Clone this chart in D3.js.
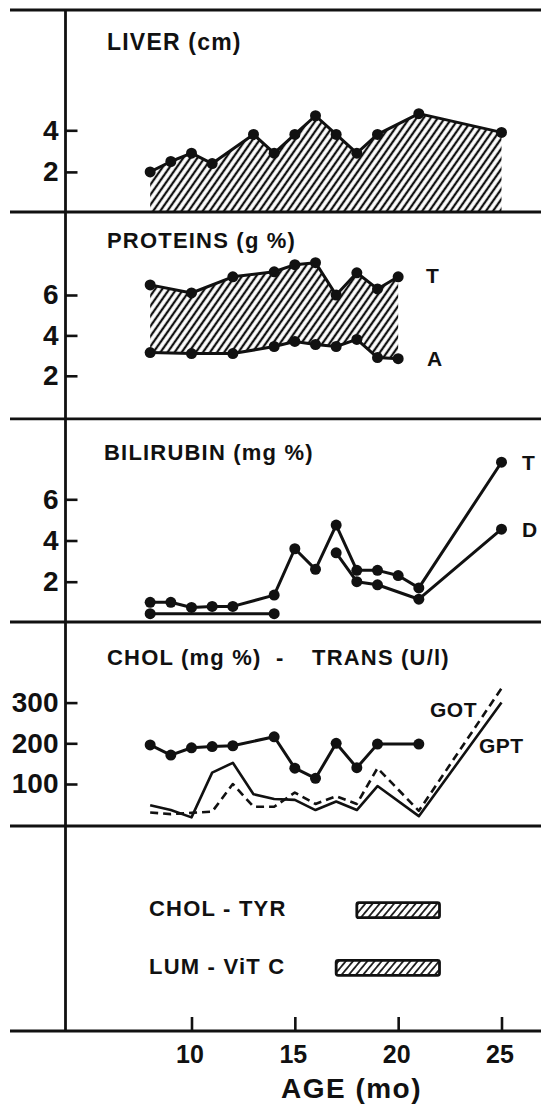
<!DOCTYPE html>
<html><head><meta charset="utf-8">
<script src="https://cdn.jsdelivr.net/npm/d3@7"></script>
<style>
body{margin:0;background:#fff}
svg{display:block}
text{font-family:"Liberation Sans",Arial,sans-serif;fill:#111;font-weight:bold}
</style>
</head><body><svg id="c" width="541" height="1106"></svg>
<script>
// ---------- data ----------
const liverAges = [8, 9, 10, 11, 13, 14, 15, 16, 17, 18, 19, 21, 25];
const liverCm   = [2.0, 2.5, 2.9, 2.4, 3.8, 2.9, 3.8, 4.7, 3.8, 2.9, 3.8, 4.8, 3.9];

const protAges  = [8, 10, 12, 14, 15, 16, 17, 18, 19, 20];
const protTotal = [6.5, 6.1, 6.9, 7.15, 7.5, 7.6, 6.0, 7.1, 6.3, 6.9];
const protAlb   = [3.15, 3.1, 3.1, 3.45, 3.7, 3.55, 3.45, 3.8, 2.9, 2.85];

const biliTAges = [8, 9, 10, 11, 12, 14, 15, 16, 17, 18, 19, 20, 21, 25];
const biliT     = [1.0, 1.0, 0.75, 0.8, 0.8, 1.35, 3.6, 2.6, 4.75, 2.55, 2.55, 2.3, 1.7, 7.8];
const biliDAges = [8, 14, 17, 18, 19, 21, 25];
const biliD     = [0.45, 0.45, 3.4, 2.0, 1.85, 1.15, 4.55];
const biliDSeg  = [1, 1, 2, 2, 2, 2, 2];

const cholAges  = [8, 9, 10, 11, 12, 14, 15, 16, 17, 18, 19, 21];
const chol      = [196, 171, 189, 192, 194, 216, 139, 114, 200, 140, 198, 198];

const transAges = [8, 9, 10, 11, 12, 13, 14, 15, 16, 17, 18, 19, 21, 25];
const gpt       = [48, 36, 18, 128, 152, 75, 63, 61, 36, 57, 36, 95, 21, 300];
const got       = [30, 26, 29, 32, 100, 44, 44, 79, 51, 70, 51, 139, 34, 335];

const barLabels = ["CHOL - TYR", "LUM - ViT C"];
const barStart  = [18, 17];
const barEnd    = [22, 22];

const xTicks      = [10, 15, 20, 25];
const liverTicks  = [2, 4];
const protTicks   = [2, 4, 6];
const biliTicks   = [2, 4, 6];
const cholTicks   = [100, 200, 300];

// ---------- layout ----------
const svg = d3.select("#c");
const axisX = 65.5;
const sepY = [10, 212, 418.8, 622, 826, 1031];
const x = d3.scaleLinear().domain([10, 25]).range([191.5, 501.5]);

const yLiver = d3.scaleLinear().domain([0, 10]).range([213.5, 5.5]);
const yProt  = d3.scaleLinear().domain([0, 10]).range([416.2, 214.2]);
const yBili  = d3.scaleLinear().domain([0, 10]).range([622.9, 416.9]);
const yChol  = d3.scaleLinear().domain([0, 500]).range([824.7, 621.2]);

// hatch patterns
const defs = svg.append("defs");
defs.append("pattern").attr("id", "hatch")
  .attr("patternUnits", "userSpaceOnUse").attr("width", 5.8).attr("height", 10)
  .attr("patternTransform", "rotate(35)")
  .append("line").attr("x1", 2.9).attr("x2", 2.9).attr("y1", -1).attr("y2", 11)
  .attr("stroke", "#111").attr("stroke-width", 2.3);
defs.append("pattern").attr("id", "hatch2")
  .attr("patternUnits", "userSpaceOnUse").attr("width", 5.5).attr("height", 10)
  .attr("patternTransform", "rotate(40)")
  .append("line").attr("x1", 2.75).attr("x2", 2.75).attr("y1", -1).attr("y2", 11)
  .attr("stroke", "#111").attr("stroke-width", 1.7);

// frame lines
svg.selectAll("line.sep").data(sepY).enter().append("line")
  .attr("x1", 10).attr("x2", 541).attr("y1", d => d).attr("y2", d => d)
  .attr("stroke", "#111").attr("stroke-width", 2.8);
svg.append("line").attr("x1", axisX).attr("x2", axisX).attr("y1", sepY[0]).attr("y2", sepY[5] + 1)
  .attr("stroke", "#111").attr("stroke-width", 2.8);

// y axes
function yAxis(scale, ticks) {
  const g = svg.append("g").attr("transform", `translate(${axisX},0)`)
    .call(d3.axisLeft(scale).tickValues(ticks).tickSizeInner(-12).tickSizeOuter(0).tickPadding(7));
  g.select(".domain").remove();
  g.selectAll(".tick line").attr("stroke", "#111").attr("stroke-width", 2.6);
  g.selectAll(".tick text").attr("font-size", 28).attr("fill", "#111");
  g.attr("font-family", null);
}
yAxis(yLiver, liverTicks);
yAxis(yProt, protTicks);
yAxis(yBili, biliTicks);
yAxis(yChol, cholTicks);

// x axis
const gx = svg.append("g").attr("transform", `translate(0,${sepY[5]})`)
  .call(d3.axisBottom(x).tickValues(xTicks).tickSizeInner(-14).tickSizeOuter(0).tickPadding(14));
gx.select(".domain").remove();
gx.selectAll(".tick line").attr("stroke", "#111").attr("stroke-width", 2.6);
gx.selectAll(".tick text").attr("font-size", 25).attr("dx", -2).attr("fill", "#111");
gx.attr("font-family", null);

// titles
function title(txt, xx, yy, size) {
  svg.append("text").attr("x", xx).attr("y", yy).attr("font-size", size || 22)
    .attr("letter-spacing", "1.2px").text(txt);
}
title("LIVER (cm)", 107, 50, 23);
title("PROTEINS (g %)", 107, 248);
title("BILIRUBIN (mg %)", 104, 460);
const ct = svg.append("text").attr("y", 665).attr("font-size", 22).attr("letter-spacing", "1.2px");
ct.append("tspan").attr("x", 107).text("CHOL (mg %)");
ct.append("tspan").attr("x", 276).text("-");
ct.append("tspan").attr("x", 312).text("TRANS (U/l)");

svg.append("text").attr("x", 351.5).attr("y", 1098).attr("font-size", 28)
  .attr("text-anchor", "middle").attr("letter-spacing", "1.5px").text("AGE (mo)");

// helpers
const lineStyle = sel => sel.attr("fill", "none").attr("stroke", "#111")
  .attr("stroke-width", 3).attr("stroke-linejoin", "round");
function series(ages, vals) {
  return ages.map((a, i) => ({a, v: vals[i]}));
}
function drawLine(data, yS, dash) {
  const p = svg.append("path").datum(data)
    .attr("d", d3.line().x(d => x(d.a)).y(d => yS(d.v)));
  lineStyle(p);
  if (dash) p.attr("stroke-dasharray", dash).attr("stroke-width", 2.6);
  return p;
}
function drawDots(data, yS) {
  svg.append("g").selectAll("circle").data(data).enter().append("circle")
    .attr("cx", d => x(d.a)).attr("cy", d => yS(d.v)).attr("r", 5.5).attr("fill", "#111");
}

// ---- Liver ----
const liverData = series(liverAges, liverCm);
svg.append("path").datum(liverData)
  .attr("d", d3.area().x(d => x(d.a)).y0(sepY[1]).y1(d => yLiver(d.v)))
  .attr("fill", "url(#hatch)");
drawLine(liverData, yLiver);
drawDots(liverData, yLiver);

// ---- Proteins ----
const protData = protAges.map((a, i) => ({a, t: protTotal[i], al: protAlb[i]}));
svg.append("path").datum(protData)
  .attr("d", d3.area().x(d => x(d.a)).y0(d => yProt(d.al)).y1(d => yProt(d.t)))
  .attr("fill", "url(#hatch)");
const tData = series(protAges, protTotal), aData = series(protAges, protAlb);
drawLine(tData, yProt); drawDots(tData, yProt);
drawLine(aData, yProt); drawDots(aData, yProt);
svg.append("text").attr("x", 426).attr("y", 283).attr("font-size", 21).text("T");
svg.append("text").attr("x", 427).attr("y", 366).attr("font-size", 21).text("A");

// ---- Bilirubin ----
const btData = series(biliTAges, biliT);
drawLine(btData, yBili); drawDots(btData, yBili);
const bdData = biliDAges.map((a, i) => ({a, v: biliD[i], s: biliDSeg[i]}));
d3.groups(bdData, d => d.s).forEach(([, seg]) => drawLine(seg, yBili));
drawDots(bdData, yBili);
svg.append("text").attr("x", 522).attr("y", 470).attr("font-size", 21).text("T");
svg.append("text").attr("x", 522).attr("y", 537).attr("font-size", 21).text("D");

// ---- Chol / Trans ----
const cData = series(cholAges, chol);
drawLine(cData, yChol); drawDots(cData, yChol);
drawLine(series(transAges, gpt), yChol).attr("stroke-width", 2.6);
drawLine(series(transAges, got), yChol, "8,5");
svg.append("text").attr("x", 430).attr("y", 716.5).attr("font-size", 21).attr("letter-spacing", "0.5px").text("GOT");
svg.append("text").attr("x", 479).attr("y", 753).attr("font-size", 21).attr("letter-spacing", "0.5px").text("GPT");

// ---- bars ----
const barY = d3.scaleBand().domain(barLabels).range([868, 1010]).paddingInner(0.74).paddingOuter(0.6);
barLabels.forEach((lab, i) => {
  const by = barY(lab), bh = barY.bandwidth();
  svg.append("rect").attr("x", x(barStart[i])).attr("y", by)
    .attr("width", x(barEnd[i]) - x(barStart[i])).attr("height", bh)
    .attr("rx", 2).attr("fill", "url(#hatch2)").attr("stroke", "#111").attr("stroke-width", 2.8);
  svg.append("text").attr("x", 149).attr("y", by + bh - 1.5).attr("font-size", 22)
    .attr("letter-spacing", "1.2px").text(lab);
});
</script>
</body></html>
